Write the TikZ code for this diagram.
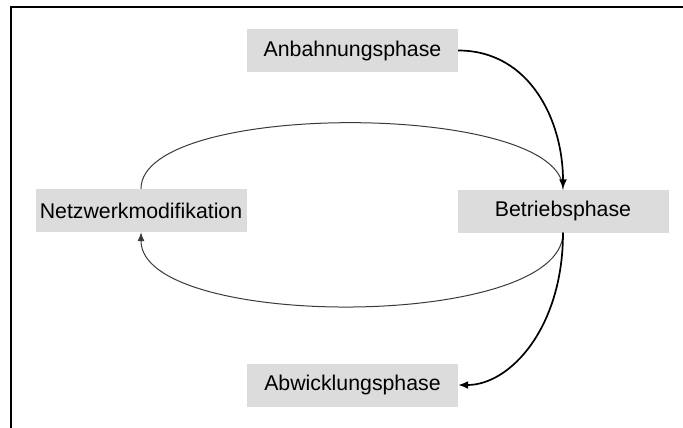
\documentclass[tikz,border=0pt]{standalone}
\usepackage{fontspec}
\setmainfont{Liberation Sans}
\usetikzlibrary{arrows.meta}
\definecolor{boxgray}{HTML}{DCDCDC}
\definecolor{loopgray}{HTML}{3A3A3A}
\begin{document}
\begin{tikzpicture}[x=1pt,y=-1pt,
  phase/.style={fill=boxgray, draw=none, minimum width=211pt, minimum height=43pt,
    inner sep=0pt, font=\fontsize{21.3}{25}\selectfont},
  flow/.style={line width=1.7pt, -{Latex[length=10pt,width=8pt]}},
  loopline/.style={line width=1pt, draw=loopgray},
  frameline/.style={line width=1.6pt}]
  \useasboundingbox (0,0) rectangle (683,428);
  % open frame: top and left edges
  \coordinate (frameTR) at (683,7);
  \coordinate (frameTL) at (11,7);
  \coordinate (frameBL) at (11,428);
  \draw[frameline] (frameTR) -- (frameTL) -- (frameBL);

  % phases
  \node[phase] (anb) at (352.5,50.5) {Anbahnungsphase};
  \node[phase] (betrieb) at (563,211) {Betriebsphase};
  \node[phase] (netz) at (141,210.5) {Netzwerkmodifikation};
  \node[phase] (abw) at (352.5,385) {Abwicklungsphase};

  % modification cycle between operation and network modification
  \draw[loopline] (netz.north) .. controls +(0,-89) and +(0,-88) .. (betrieb.north);
  \draw[loopline, -{Latex[length=9pt,width=7pt]}]
    (betrieb.south) .. controls +(0,98) and +(0,98) .. (netz.south);

  % main sequence
  \draw[flow] (anb.east) .. controls +(72,0) and +(0,-68) .. (betrieb.north);
  \draw[flow] (betrieb.south) .. controls +(0,95) and +(52,0) .. (abw.east);
\end{tikzpicture}
\end{document}
